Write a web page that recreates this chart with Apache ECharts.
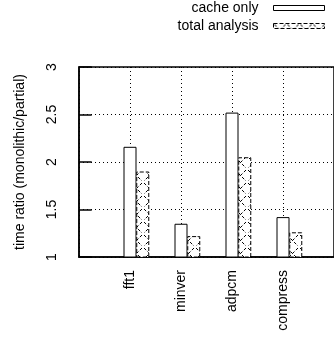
<!DOCTYPE html>
<html>
<head>
<meta charset="utf-8">
<script src="https://cdn.jsdelivr.net/npm/echarts@6/dist/echarts.min.js"></script>
<style>
  html, body { margin: 0; padding: 0; background: #fff; }
  #chart { width: 334px; height: 351px; }
</style>
</head>
<body>
<div id="chart"></div>
<script>
// 基准数据
const categories = ['fft1', 'minver', 'adpcm', 'compress'];
const cacheOnly = [2.16, 1.35, 2.52, 1.42];
const totalAnalysis = [1.9, 1.22, 2.05, 1.26];
const seriesNames = ['cache only', 'total analysis'];

const FONT = '"Liberation Sans", Arial, sans-serif';

// 交叉阴影图案
function makeHatch() {
    const c = document.createElement('canvas');
    c.width = 13;
    c.height = 13;
    const ctx = c.getContext('2d');
    ctx.fillStyle = '#fff';
    ctx.fillRect(0, 0, 13, 13);
    ctx.strokeStyle = '#000';
    ctx.lineWidth = 1;
    ctx.setLineDash([3, 2]);
    ctx.beginPath();
    ctx.moveTo(1, 1); ctx.lineTo(12, 12);
    ctx.moveTo(12, 1); ctx.lineTo(1, 12);
    ctx.stroke();
    return c;
}

const hatch = { image: makeHatch(), repeat: 'repeat' };

const chart = echarts.init(document.getElementById('chart'));

const option = {
    animation: false,
    textStyle: { fontFamily: FONT, color: '#000' },
    legend: {
        orient: 'vertical',
        right: 9,
        top: 1,
        padding: 0,
        align: 'right',
        icon: 'rect',
        itemWidth: 51,
        itemHeight: 5,
        itemGap: 4,
        textStyle: { fontSize: 14, color: '#000', fontFamily: FONT, lineHeight: 14, padding: [0, 10, 0, 0] },
        data: [
            { name: seriesNames[0], itemStyle: { color: '#fff', borderColor: '#000', borderWidth: 1 } },
            { name: seriesNames[1], itemStyle: { color: hatch, borderColor: '#000', borderWidth: 1, borderType: 'dashed' } }
        ]
    },
    grid: {
        left: 79,
        top: 67,
        right: -2,
        bottom: 94,
        show: true,
        borderColor: '#000',
        borderWidth: 1.5
    },
    xAxis: [
        {
            type: 'value',
            min: 0,
            max: 5,
            interval: 1,
            axisLine: { show: true, lineStyle: { color: '#000', width: 1.5 } },
            axisTick: { show: false },
            axisLabel: {
                rotate: 90,
                fontSize: 14,
                color: '#000',
                fontFamily: FONT,
                margin: 13,
                formatter: function (v) { return categories[v - 1] || ''; }
            },
            splitLine: { show: true, lineStyle: { color: '#000', type: [1, 3], width: 1 } }
        },
        {
            type: 'value',
            min: -0.25,
            max: 4.75,
            show: false
        }
    ],
    yAxis: [
        {
            type: 'value',
            min: 1,
            max: 3,
            interval: 0.5,
            name: 'time ratio (monolithic/partial)',
            nameLocation: 'middle',
            nameRotate: 90,
            nameGap: 52,
            nameTextStyle: { fontSize: 14, color: '#000', fontFamily: FONT },
            axisLine: { show: true, lineStyle: { color: '#000', width: 1.5 } },
            axisTick: { show: true, inside: true, length: 8, lineStyle: { color: '#000', width: 1.5 } },
            axisLabel: {
                rotate: 90,
                fontSize: 14,
                color: '#000',
                fontFamily: FONT,
                margin: 20
            },
            splitLine: { show: true, lineStyle: { color: '#000', type: [1, 3], width: 1 } }
        },
        {
            type: 'value',
            min: 1,
            max: 3,
            interval: 0.5,
            position: 'right',
            axisLine: { show: false },
            axisTick: { show: true, inside: true, length: 8, lineStyle: { color: '#000', width: 1.5 } },
            axisLabel: { show: false },
            splitLine: { show: false }
        }
    ],
    series: [
        {
            name: seriesNames[0],
            type: 'bar',
            xAxisIndex: 0,
            yAxisIndex: 0,
            barWidth: 13,
            itemStyle: { color: '#fff', borderColor: '#000', borderWidth: 1 },
            data: cacheOnly.map((v, i) => [i + 1, v])
        },
        {
            name: seriesNames[1],
            type: 'bar',
            xAxisIndex: 1,
            yAxisIndex: 0,
            barWidth: 13,
            itemStyle: { color: hatch, borderColor: '#000', borderWidth: 1, borderType: 'dashed' },
            data: totalAnalysis.map((v, i) => [i + 1, v])
        }
    ]
};

chart.setOption(option);
</script>
</body>
</html>
